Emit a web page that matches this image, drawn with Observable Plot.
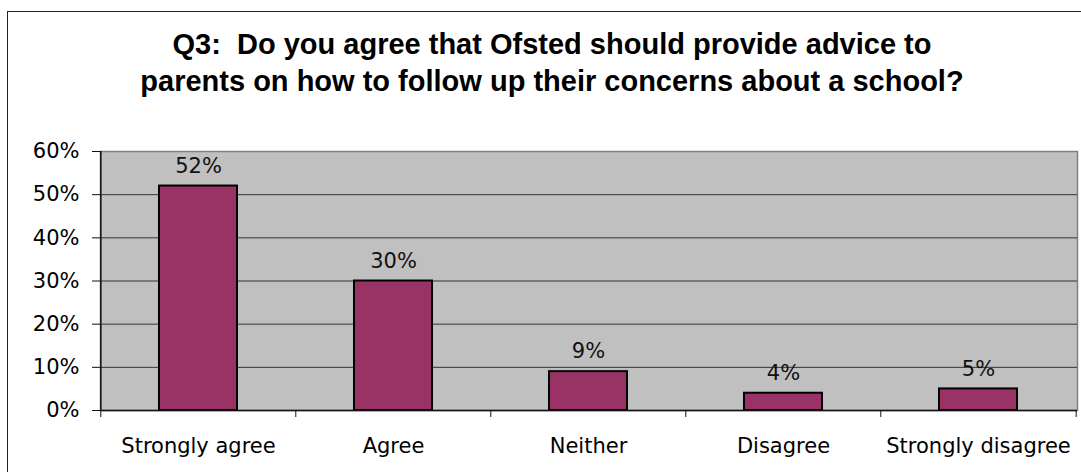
<!DOCTYPE html>
<html>
<head>
<meta charset="utf-8">
<script src="https://cdn.jsdelivr.net/npm/d3@7"></script>
<script src="https://cdn.jsdelivr.net/npm/@observablehq/plot@0.6"></script>
<style>
  html, body { margin: 0; padding: 0; background: #fff; }
  #wrap { position: relative; width: 1081px; height: 472px; overflow: hidden; background: #fff; }
  #border { position: absolute; left: 7px; top: 11px; width: 1100px; height: 500px; border: 1.5px solid #222; box-sizing: border-box; }
  #title { position: absolute; left: 7px; top: 26px; width: 1090px; text-align: center;
           font-family: "Liberation Sans", Arial, sans-serif; font-weight: bold; font-size: 29px; line-height: 37px; color: #000; }
  #chart { position: absolute; left: 0; top: 130px; }
</style>
</head>
<body>
<div id="wrap">
  <div id="border"></div>
  <div id="title">Q3:&nbsp; Do you agree that Ofsted should provide advice to<br>parents on how to follow up their concerns about a school?</div>
  <div id="chart"></div>
</div>
<script>
const categories = ["Strongly agree", "Agree", "Neither", "Disagree", "Strongly disagree"];
const values = [52, 30, 9, 4, 5];
const yTicks = [0, 10, 20, 30, 40, 50, 60];
const gridTicks = [10, 20, 30, 40, 50];

const data = categories.map((c, i) => ({category: c, value: values[i]}));

const W = 1081, H = 342, ML = 100, MR = 4, MT = 21, MB = 62;
const half = (W - ML - MR) / categories.length / 2;

const chart = Plot.plot({
  width: W,
  height: H,
  marginLeft: ML,
  marginRight: MR,
  marginTop: MT,
  marginBottom: MB,
  style: {fontFamily: "'DejaVu Sans', Verdana, sans-serif", fontSize: "21px", color: "#000", background: "transparent"},
  x: {domain: categories, paddingInner: 0.6, paddingOuter: 0.3, label: null},
  y: {domain: [0, 60], label: null},
  marks: [
    Plot.frame({fill: "#c0c0c0", stroke: "#808080", strokeWidth: 1.5}),
    Plot.ruleY(gridTicks, {stroke: "#333", strokeWidth: 1}),
    Plot.barY(data, {x: "category", y: "value", fill: "#993366", stroke: "#000", strokeWidth: 2}),
    Plot.text(data, {x: "category", y: "value", text: d => d.value + "%", dy: -20, fill: "#111"}),
    Plot.ruleY([0], {stroke: "#111", strokeWidth: 1.5}),
    Plot.ruleX([categories[0]], {y1: 0, y2: 60, dx: -half, stroke: "#111", strokeWidth: 1.5}),
    Plot.axisY({ticks: yTicks, tickFormat: d => d + "%", tickSize: 8, tickPadding: 13, stroke: "#111", label: null}),
    Plot.axisX({tickSize: 0, tickPadding: 28, label: null}),
    Plot.axisX({tickSize: 7, tickFormat: () => "", dx: -half, label: null, stroke: "#111"}),
    Plot.axisX({ticks: [categories[categories.length - 1]], tickSize: 7, tickFormat: () => "", dx: half, label: null, stroke: "#111"})
  ]
});
document.getElementById("chart").appendChild(chart);
</script>
</body>
</html>
